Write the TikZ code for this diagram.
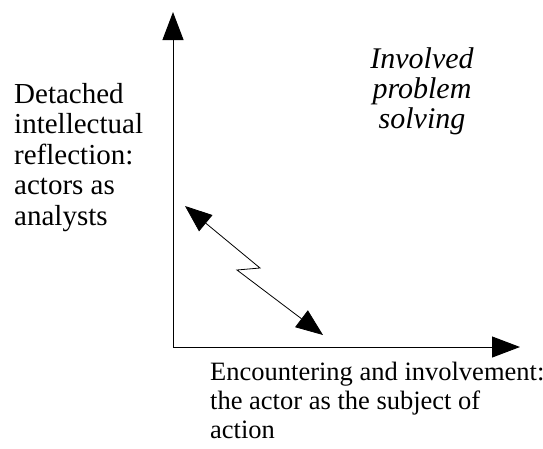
\documentclass[tikz,border=0pt]{standalone}
\usepackage{fontspec}
\setmainfont{Liberation Serif}
\usepackage{tikz}
\usetikzlibrary{arrows.meta,positioning}
\tikzset{
  axis-line/.style={line width=1pt, {Triangle[length=28pt,width=21pt]}-{Triangle[length=28pt,width=21pt]}},
  swing-line/.style={line width=0.8pt, {Triangle[length=27pt,width=21pt]}-{Triangle[length=27pt,width=21pt]}},
  axis-label/.style={font=\fontsize{29pt}{30.5pt}\selectfont, inner sep=0pt, align=left},
  zone-label/.style={font=\fontsize{30pt}{30pt}\selectfont\itshape, inner sep=0pt, align=center}
}
\begin{document}
\begin{tikzpicture}[x=1pt, y=-1pt]
  \useasboundingbox (0,0) rectangle (543,448);

  % Axes
  \coordinate (ytip) at (173,12);
  \coordinate (origin) at (173,347);
  \coordinate (xtip) at (520,347);
  \draw[axis-line] (ytip) -- (origin) -- (xtip);

  % Zigzag between the two poles
  \coordinate (zu) at (185,206);
  \coordinate (zk1) at (260,268);
  \coordinate (zk2) at (237,270);
  \coordinate (zl) at (323,335);
  \draw[swing-line] (zu) -- (zk1) -- (zk2) -- (zl);

  % Labels (anchored on their last line)
  \node[axis-label, anchor=base west] (detached) at (14,225)
    {Detached\\intellectual\\reflection:\\actors as\\analysts};
  \node[axis-label, font=\fontsize{26.5pt}{29pt}\selectfont, anchor=base west] (encounter) at (210,438)
    {Encountering and involvement:\\the actor as the subject of\\action};
  \node[zone-label, anchor=base] (involved) at (422,128)
    {Involved\\problem\\solving};
\end{tikzpicture}
\end{document}
